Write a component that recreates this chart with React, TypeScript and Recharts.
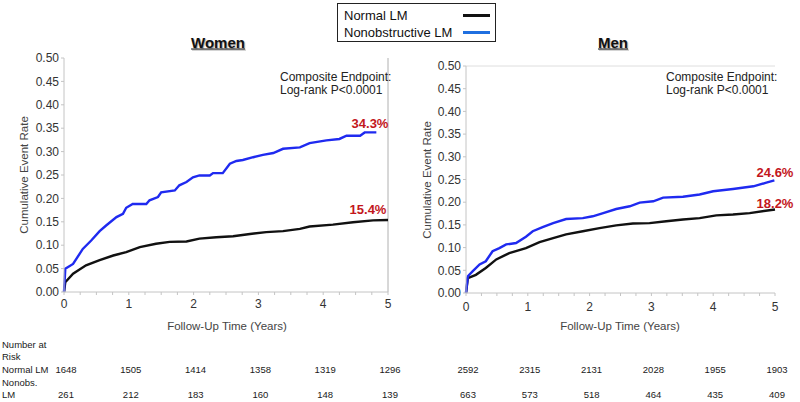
import React from 'react';
import { LineChart, Line, XAxis, YAxis, ReferenceLine } from 'recharts';

// Kaplan-Meier style cumulative event curves (years, rate)
const womenNormal = [
  { t: 0, v: 0 }, { t: 0.02, v: 0.021 }, { t: 0.14, v: 0.039 }, { t: 0.34, v: 0.057 },
  { t: 0.55, v: 0.068 }, { t: 0.76, v: 0.078 }, { t: 0.96, v: 0.085 }, { t: 1.17, v: 0.096 },
  { t: 1.42, v: 0.103 }, { t: 1.63, v: 0.107 }, { t: 1.89, v: 0.108 }, { t: 2.09, v: 0.114 },
  { t: 2.35, v: 0.117 }, { t: 2.61, v: 0.119 }, { t: 2.87, v: 0.124 }, { t: 3.12, v: 0.128 },
  { t: 3.38, v: 0.13 }, { t: 3.64, v: 0.135 }, { t: 3.79, v: 0.14 }, { t: 4.15, v: 0.144 },
  { t: 4.46, v: 0.149 }, { t: 4.77, v: 0.153 }, { t: 5.0, v: 0.154 },
];
const womenNonobs = [
  { t: 0, v: 0 }, { t: 0.02, v: 0.05 }, { t: 0.14, v: 0.06 }, { t: 0.29, v: 0.092 },
  { t: 0.42, v: 0.11 }, { t: 0.55, v: 0.13 }, { t: 0.65, v: 0.142 }, { t: 0.81, v: 0.16 },
  { t: 0.91, v: 0.167 }, { t: 0.96, v: 0.18 }, { t: 1.06, v: 0.188 }, { t: 1.27, v: 0.188 },
  { t: 1.32, v: 0.196 }, { t: 1.45, v: 0.203 }, { t: 1.5, v: 0.213 }, { t: 1.71, v: 0.217 },
  { t: 1.78, v: 0.228 }, { t: 1.89, v: 0.235 }, { t: 1.99, v: 0.245 }, { t: 2.09, v: 0.249 },
  { t: 2.25, v: 0.249 }, { t: 2.3, v: 0.254 }, { t: 2.45, v: 0.254 }, { t: 2.56, v: 0.274 },
  { t: 2.66, v: 0.28 }, { t: 2.76, v: 0.282 }, { t: 2.92, v: 0.288 }, { t: 3.07, v: 0.293 },
  { t: 3.23, v: 0.297 }, { t: 3.38, v: 0.306 }, { t: 3.64, v: 0.309 }, { t: 3.79, v: 0.318 },
  { t: 4.05, v: 0.324 }, { t: 4.25, v: 0.327 }, { t: 4.36, v: 0.334 }, { t: 4.57, v: 0.334 },
  { t: 4.64, v: 0.341 }, { t: 4.82, v: 0.341 },
];
const menNormal = [
  { t: 0, v: 0 }, { t: 0.03, v: 0.033 }, { t: 0.16, v: 0.04 }, { t: 0.32, v: 0.055 },
  { t: 0.49, v: 0.074 }, { t: 0.7, v: 0.088 }, { t: 0.97, v: 0.099 }, { t: 1.19, v: 0.112 },
  { t: 1.41, v: 0.121 }, { t: 1.62, v: 0.129 }, { t: 1.89, v: 0.136 }, { t: 2.16, v: 0.143 },
  { t: 2.43, v: 0.149 }, { t: 2.7, v: 0.153 }, { t: 2.97, v: 0.154 }, { t: 3.24, v: 0.158 },
  { t: 3.51, v: 0.162 }, { t: 3.78, v: 0.165 }, { t: 4.05, v: 0.171 }, { t: 4.32, v: 0.173 },
  { t: 4.59, v: 0.176 }, { t: 5.0, v: 0.184 },
];
const menNonobs = [
  { t: 0, v: 0 }, { t: 0.03, v: 0.037 }, { t: 0.11, v: 0.048 }, { t: 0.22, v: 0.063 },
  { t: 0.32, v: 0.07 }, { t: 0.43, v: 0.092 }, { t: 0.54, v: 0.099 }, { t: 0.65, v: 0.107 },
  { t: 0.81, v: 0.11 }, { t: 0.97, v: 0.124 }, { t: 1.08, v: 0.136 }, { t: 1.24, v: 0.145 },
  { t: 1.41, v: 0.154 }, { t: 1.62, v: 0.163 }, { t: 1.89, v: 0.165 }, { t: 2.05, v: 0.169 },
  { t: 2.22, v: 0.176 }, { t: 2.43, v: 0.185 }, { t: 2.65, v: 0.191 }, { t: 2.81, v: 0.199 },
  { t: 3.03, v: 0.202 }, { t: 3.19, v: 0.21 }, { t: 3.51, v: 0.212 }, { t: 3.78, v: 0.217 },
  { t: 4.0, v: 0.224 }, { t: 4.32, v: 0.229 }, { t: 4.65, v: 0.235 }, { t: 4.86, v: 0.243 },
  { t: 4.99, v: 0.248 },
];

const riskTimes = [0, 1, 2, 3, 4, 5];
const womenRiskNormal = [1648, 1505, 1414, 1358, 1319, 1296];
const womenRiskNonobs = [261, 212, 183, 160, 148, 139];
const menRiskNormal = [2592, 2315, 2131, 2028, 1955, 1903];
const menRiskNonobs = [663, 573, 518, 464, 435, 409];

const xTicks = [0, 0.25, 0.5, 0.75, 1, 1.25, 1.5, 1.75, 2, 2.25, 2.5, 2.75, 3, 3.25, 3.5, 3.75, 4, 4.25, 4.5, 4.75, 5];
const yTicks = [0, 0.05, 0.1, 0.15, 0.2, 0.25, 0.3, 0.35, 0.4, 0.45, 0.5];

const FONT = '"Liberation Sans", Arial, sans-serif';
const BLACK = '#111111';
const BLUE = '#1f2af0';
const RED = '#c3161c';
const AXIS = '#c4c4c4';

type Pt = { t: number; v: number };

interface PanelProps {
  left: number;
  plotLeft: number;   // absolute x of t=0
  plotRight: number;  // absolute x of t=5
  plotTop: number;
  plotBottom: number;
  normal: Pt[];
  nonobs: Pt[];
  xTickGap: number;
  rightBorder?: boolean;
  topBorder?: boolean;
}

const CHART_W = 400;
const CHART_H = 340;
const YAXIS_W = 40;
const XAXIS_H = 30;

const Panel: React.FC<PanelProps> = (p) => {
  const margin = {
    left: p.plotLeft - p.left - YAXIS_W,
    right: p.left + CHART_W - p.plotRight,
    top: p.plotTop,
    bottom: CHART_H - p.plotBottom - XAXIS_H,
  };
  return (
    <div style={{ position: 'absolute', left: p.left, top: 0 }}>
      <LineChart width={CHART_W} height={CHART_H} margin={margin}>
        <XAxis
          dataKey="t"
          type="number"
          domain={[0, 5]}
          ticks={xTicks}
          interval={0}
          height={XAXIS_H}
          stroke={AXIS}
          tickSize={3}
          tickMargin={p.xTickGap}
          tick={{ fill: '#333', fontSize: 12, fontFamily: FONT }}
          tickFormatter={(v: number) => (Number.isInteger(v) ? String(v) : '')}
          allowDuplicatedCategory={false}
        />
        <YAxis
          dataKey="v"
          type="number"
          domain={[0, 0.5]}
          ticks={yTicks}
          interval={0}
          width={YAXIS_W}
          stroke={AXIS}
          tickSize={3}
          tickMargin={2}
          tick={{ fill: '#333', fontSize: 12, fontFamily: FONT }}
          tickFormatter={(v: number) => v.toFixed(2)}
        />
        {p.rightBorder && <ReferenceLine x={5} stroke="#b0b0b0" strokeWidth={1} />}
        {p.topBorder && <ReferenceLine y={0.5} stroke="#dedede" strokeWidth={1} />}
        <Line data={p.normal} dataKey="v" type="linear" stroke={BLACK} strokeWidth={2.4} dot={false} isAnimationActive={false} />
        <Line data={p.nonobs} dataKey="v" type="linear" stroke={BLUE} strokeWidth={2.4} dot={false} isAnimationActive={false} />
      </LineChart>
    </div>
  );
};

const txt = (extra: React.CSSProperties): React.CSSProperties => ({
  position: 'absolute',
  fontFamily: FONT,
  whiteSpace: 'nowrap',
  lineHeight: 1,
  ...extra,
});

const Centered: React.FC<{ x: number; y: number; style?: React.CSSProperties; children: React.ReactNode }> = ({ x, y, style, children }) => (
  <div style={txt({ left: x, top: y, transform: 'translate(-50%, -50%)', ...style })}>{children}</div>
);

const W = { left: 0, plotLeft: 64, plotRight: 388, plotTop: 58, plotBottom: 292 };
const M = { left: 400, plotLeft: 466, plotRight: 775, plotTop: 66, plotBottom: 293 };

const xPos = (g: { plotLeft: number; plotRight: number }, t: number) => g.plotLeft + (t / 5) * (g.plotRight - g.plotLeft);

const App: React.FC = () => {
  const tableText: React.CSSProperties = { fontSize: 9.5, color: '#1a1a1a' };
  return (
    <div style={{ position: 'absolute', left: 0, top: 0, width: 800, height: 402, background: '#fff', overflow: 'hidden' }}>
      <Panel {...W} normal={womenNormal} nonobs={womenNonobs} xTickGap={4} rightBorder />
      <Panel {...M} normal={menNormal} nonobs={menNonobs} xTickGap={6} topBorder />

      {/* legend */}
      <div style={{ position: 'absolute', left: 337, top: 3, width: 157, height: 37, border: '1.5px solid #222', background: '#fff' }} />
      <div style={txt({ left: 344, top: 9, fontSize: 13, color: '#111' })}>Normal LM</div>
      <div style={txt({ left: 344, top: 26, fontSize: 13, color: '#111' })}>Nonobstructive LM</div>
      <div style={{ position: 'absolute', left: 463, top: 14, width: 27, height: 3, background: '#111' }} />
      <div style={{ position: 'absolute', left: 463, top: 31, width: 27, height: 3, background: '#1f6fe0' }} />

      {/* titles */}
      <Centered x={218} y={42} style={{ fontSize: 15, fontWeight: 'bold', textDecoration: 'underline', color: '#111', textShadow: '1px 1px 1px #aaa' }}>Women</Centered>
      <Centered x={613} y={42} style={{ fontSize: 15, fontWeight: 'bold', textDecoration: 'underline', color: '#111', textShadow: '1px 1px 1px #aaa' }}>Men</Centered>

      {/* axis titles */}
      <Centered x={25} y={175} style={{ fontSize: 11.5, color: '#444', transform: 'translate(-50%, -50%) rotate(-90deg)' }}>Cumulative Event Rate</Centered>
      <Centered x={428} y={180} style={{ fontSize: 11.5, color: '#444', transform: 'translate(-50%, -50%) rotate(-90deg)' }}>Cumulative Event Rate</Centered>
      <Centered x={227} y={327} style={{ fontSize: 11.5, color: '#444' }}>Follow-Up Time (Years)</Centered>
      <Centered x={620} y={327} style={{ fontSize: 11.5, color: '#444' }}>Follow-Up Time (Years)</Centered>

      {/* annotations */}
      <div style={txt({ left: 280, top: 71, fontSize: 12, color: '#222', lineHeight: '13px' })}>Composite Endpoint:<br />Log-rank P&lt;0.0001</div>
      <div style={txt({ left: 666, top: 71, fontSize: 12, color: '#222', lineHeight: '13px' })}>Composite Endpoint:<br />Log-rank P&lt;0.0001</div>

      <Centered x={370} y={123} style={{ fontSize: 13, fontWeight: 'bold', color: RED }}>34.3%</Centered>
      <Centered x={368} y={209} style={{ fontSize: 13, fontWeight: 'bold', color: RED }}>15.4%</Centered>
      <Centered x={775} y={172} style={{ fontSize: 13, fontWeight: 'bold', color: RED }}>24.6%</Centered>
      <Centered x={775} y={203} style={{ fontSize: 13, fontWeight: 'bold', color: RED }}>18.2%</Centered>

      {/* number at risk */}
      <div style={txt({ left: 2, top: 340, ...tableText })}>Number at</div>
      <div style={txt({ left: 2, top: 352, ...tableText })}>Risk</div>
      <div style={txt({ left: 2, top: 365, ...tableText })}>Normal LM</div>
      <div style={txt({ left: 2, top: 378, ...tableText })}>Nonobs.</div>
      <div style={txt({ left: 2, top: 390, ...tableText })}>LM</div>
      {riskTimes.map((t, i) => (
        <React.Fragment key={t}>
          <Centered x={xPos(W, t) + 2} y={370} style={tableText}>{womenRiskNormal[i]}</Centered>
          <Centered x={xPos(W, t) + 2} y={395} style={tableText}>{womenRiskNonobs[i]}</Centered>
          <Centered x={xPos(M, t) + 2} y={370} style={tableText}>{menRiskNormal[i]}</Centered>
          <Centered x={xPos(M, t) + 2} y={395} style={tableText}>{menRiskNonobs[i]}</Centered>
        </React.Fragment>
      ))}
    </div>
  );
};

export default App;
